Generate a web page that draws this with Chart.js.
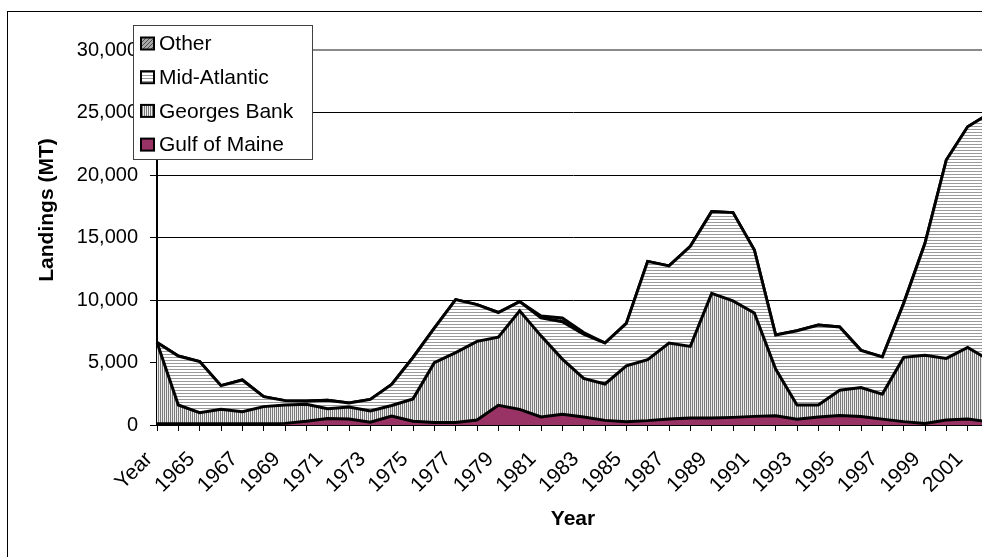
<!DOCTYPE html>
<html>
<head>
<meta charset="utf-8">
<title>Landings by region</title>
<script src="https://cdn.jsdelivr.net/npm/chart.js@4.4.1/dist/chart.umd.min.js"></script>
<style>
  html, body { margin: 0; padding: 0; overflow: hidden; background: #fff; }
  #wrap { width: 982px; height: 557px; overflow: hidden; position: relative; }
  canvas { display: block; }
</style>
</head>
<body>
<div id="wrap"><canvas id="c" width="1000" height="557"></canvas></div>
<script>
// Category labels along the bottom axis
const years = ['Year', '1964', '1965', '1966', '1967', '1968', '1969', '1970', '1971', '1972',
  '1973', '1974', '1975', '1976', '1977', '1978', '1979', '1980', '1981', '1982',
  '1983', '1984', '1985', '1986', '1987', '1988', '1989', '1990', '1991', '1992',
  '1993', '1994', '1995', '1996', '1997', '1998', '1999', '2000', '2001', '2002'];

// Landings (MT) per region, stacked from the bottom up
const gulfOfMaine = [100, 100, 100, 100, 100, 100, 130, 300, 520, 480,
  220, 720, 300, 200, 200, 400, 1570, 1250, 640, 850,
  640, 370, 270, 350, 480, 560, 560, 610, 690, 730,
  470, 640, 760, 680, 470, 270, 130, 400, 480, 250];
const georgesBank = [6500, 1500, 890, 1150, 970, 1370, 1470, 1350, 790, 960,
  900, 840, 1790, 4790, 5590, 6290, 5460, 7880, 6490, 4420,
  3090, 2910, 4460, 4880, 6080, 5730, 9970, 9320, 8270, 3740,
  1130, 960, 2020, 2320, 2000, 5140, 5440, 4930, 5720, 4950];
const midAtlantic = [0, 3920, 4080, 1900, 2530, 800, 350, 270, 660, 320,
  930, 1690, 3310, 2760, 4240, 2940, 1970, 740, 1450, 2990,
  3540, 3280, 3400, 7860, 6170, 8000, 6540, 7060, 5040, 2730,
  5940, 6400, 5060, 2970, 2970, 4320, 8960, 15870, 17660, 19700];
const other = [0, 0, 0, 0, 0, 0, 0, 0, 0, 0,
  0, 0, 0, 0, 0, 0, 0, 0, 140, 300,
  130, 0, 0, 0, 0, 0, 0, 0, 0, 0,
  0, 0, 0, 0, 0, 0, 0, 0, 0, 0];

const yTicks = [0, 5000, 10000, 15000, 20000, 25000, 30000];

const FONT = "'Liberation Sans', Arial, sans-serif";

// Small repeating fills: stripes and hatching
function makePattern(w, h, paint) {
  const c = document.createElement('canvas');
  c.width = w; c.height = h;
  const g = c.getContext('2d');
  paint(g);
  return g.createPattern(c, 'repeat');
}
const vStripes = makePattern(2, 2, g => {
  g.fillStyle = '#ececec'; g.fillRect(0, 0, 2, 2);
  g.fillStyle = '#7a7a7a'; g.fillRect(0, 0, 1, 2);
});
const hStripes = makePattern(3, 3, g => {
  g.fillStyle = '#ffffff'; g.fillRect(0, 0, 3, 3);
  g.fillStyle = '#9a9a9a'; g.fillRect(0, 0, 3, 1);
});
const hatch = makePattern(4, 4, g => {
  g.fillStyle = '#a8a8a8'; g.fillRect(0, 0, 4, 4);
  g.fillStyle = '#505050';
  for (let i = 0; i < 4; i++) g.fillRect(i, 3 - i, 1, 1);
});

const series = [
  { label: 'Gulf of Maine', data: gulfOfMaine, fill: 'origin', bg: '#993366' },
  { label: 'Georges Bank', data: georgesBank, fill: '-1', bg: vStripes },
  { label: 'Mid-Atlantic', data: midAtlantic, fill: '-1', bg: hStripes },
  { label: 'Other', data: other, fill: '-1', bg: hatch }
];

// Outer frame, axis titles and the boxed legend
const decorations = {
  id: 'decorations',
  afterDraw(chart) {
    const ctx = chart.ctx;
    ctx.save();
    ctx.strokeStyle = '#000';
    ctx.lineWidth = 1;
    ctx.strokeRect(7.5, 11.5, 2000, 2000);

    ctx.fillStyle = '#000';
    ctx.font = 'bold 21px ' + FONT;
    ctx.textAlign = 'center';
    ctx.textBaseline = 'middle';
    ctx.fillText('Year', (chart.chartArea.left + chart.chartArea.right) / 2, 519);
    ctx.save();
    ctx.translate(47, 210);
    ctx.rotate(-Math.PI / 2);
    ctx.fillText('Landings (MT)', 0, 0);
    ctx.restore();

    // legend box
    const bx = 133.5, by = 25.5, bw = 179, bh = 134;
    ctx.fillStyle = '#fff';
    ctx.fillRect(bx, by, bw, bh);
    ctx.strokeStyle = '#404040';
    ctx.lineWidth = 1;
    ctx.strokeRect(bx, by, bw, bh);
    const sets = chart.data.datasets.slice().reverse();
    ctx.font = '21px ' + FONT;
    ctx.textAlign = 'left';
    sets.forEach((ds, k) => {
      const cy = 43.5 + k * 33.7;
      ctx.fillStyle = ds.backgroundColor;
      ctx.fillRect(141, cy - 6, 13, 12);
      ctx.strokeStyle = '#000';
      ctx.lineWidth = 2;
      ctx.strokeRect(141, cy - 6, 13, 12);
      ctx.fillStyle = '#000';
      ctx.fillText(ds.label, 159, cy + 1);
    });
    ctx.restore();
  }
};

new Chart(document.getElementById('c'), {
  type: 'line',
  data: {
    labels: years,
    datasets: series.map(s => ({
      label: s.label,
      data: s.data,
      fill: s.fill,
      backgroundColor: s.bg,
      borderColor: '#000',
      borderWidth: 3,
      pointRadius: 0,
      tension: 0
    }))
  },
  options: {
    responsive: false,
    animation: false,
    devicePixelRatio: 1,
    layout: { padding: { top: 50, right: 11, left: 0, bottom: 0 } },
    plugins: { legend: { display: false }, tooltip: { enabled: false } },
    scales: {
      x: {
        type: 'category',
        offset: false,
        grid: { drawOnChartArea: false, drawTicks: true, tickLength: 6, color: '#000', lineWidth: 1 },
        border: { display: true, color: '#000', width: 2 },
        ticks: {
          autoSkip: false,
          minRotation: 45,
          maxRotation: 45,
          color: '#000',
          font: { family: FONT, size: 21 },
          padding: 16,
          labelOffset: -8,
          callback: (v, i) => (i % 2 === 0 ? years[i] : '')
        },
        afterFit: s => {
          s.height = 557 - 425;
          s.paddingLeft = 0;
          s.paddingRight = 0;
        }
      },
      y: {
        stacked: true,
        min: 0,
        max: 30000,
        afterBuildTicks: s => { s.ticks = yTicks.map(v => ({ value: v })); },
        grid: {
          color: c => (c.tick && c.tick.value === 30000 ? '#8a8a8a' : '#000'),
          lineWidth: c => (c.tick && c.tick.value === 30000 ? 2 : 1),
          tickColor: '#000',
          tickLength: 7
        },
        border: { display: true, color: '#000', width: 2 },
        ticks: {
          color: '#000',
          font: { family: FONT, size: 20 },
          padding: 12,
          callback: v => v.toLocaleString('en-US')
        },
        afterFit: s => {
          s.width = 157;
          s.paddingTop = 0;
          s.paddingBottom = 0;
        }
      }
    }
  },
  plugins: [decorations]
});
</script>
</body>
</html>
